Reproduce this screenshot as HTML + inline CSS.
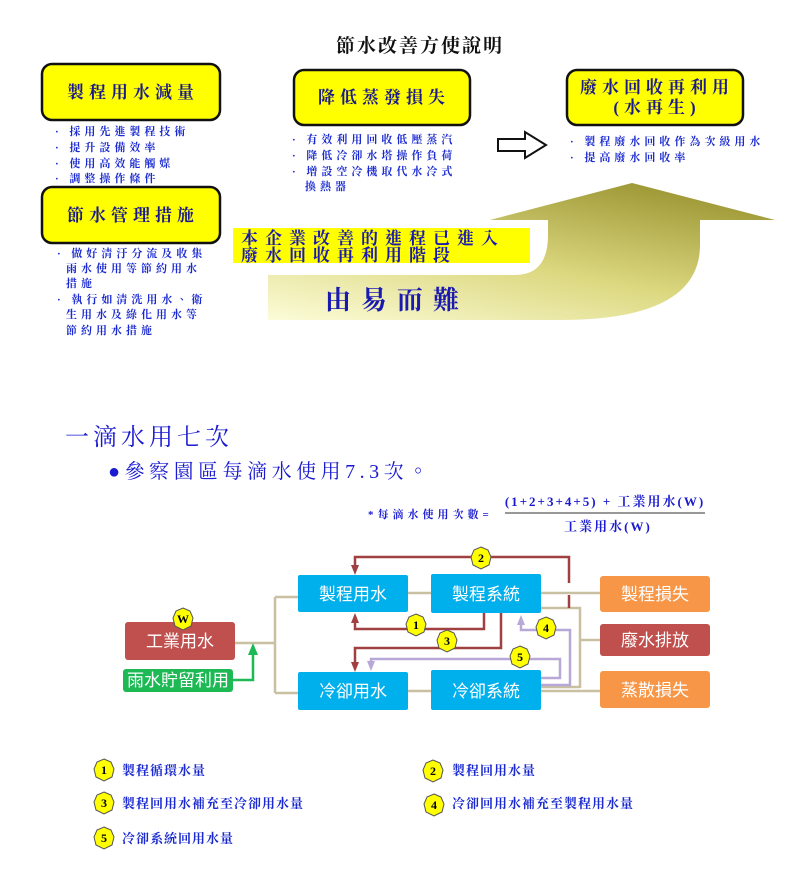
<!DOCTYPE html>
<html><head><meta charset="utf-8"><style>
body{margin:0;background:#fff;}
svg{display:block;font-family:"Liberation Serif","Noto Serif CJK TC","Noto Serif CJK SC",serif;}
.b{fill:#1a2ad0;font-weight:bold;font-size:11px;letter-spacing:4px;}
.bx{fill:#1a1a8c;font-weight:bold;font-size:17px;letter-spacing:5px;}
.wt{fill:#fff;font-size:17px;font-family:"Liberation Sans","Noto Sans CJK TC",sans-serif;}
.hx{fill:#ffff00;stroke:#555;stroke-width:1;}
.hn{font-size:12px;font-weight:bold;fill:#000;text-anchor:middle;}
.lg{fill:#1a2ad0;font-weight:bold;font-size:13px;letter-spacing:1px;}
</style></head><body>
<svg width="800" height="870" viewBox="0 0 800 870">
<defs>
<linearGradient id="g" x1="0" y1="1" x2="0.7" y2="0">
<stop offset="0" stop-color="#fcfcd8"/><stop offset="0.5" stop-color="#dcd880"/><stop offset="1" stop-color="#a09a38"/>
</linearGradient>
<marker id="ar" markerUnits="userSpaceOnUse" markerWidth="10" markerHeight="10" refX="5" refY="5" orient="auto"><path d="M0,1 L10,5 L0,9 Z" fill="#a04040"/></marker>
<marker id="al" markerUnits="userSpaceOnUse" markerWidth="10" markerHeight="10" refX="5" refY="5" orient="auto"><path d="M0,1 L10,5 L0,9 Z" fill="#b8a8d8"/></marker>
<marker id="ag" markerUnits="userSpaceOnUse" markerWidth="12" markerHeight="12" refX="6" refY="6" orient="auto"><path d="M0,1 L12,6 L0,11 Z" fill="#1db954"/></marker>
</defs>
<text x="420" y="52" text-anchor="middle" font-size="19" font-weight="bold" fill="#111" letter-spacing="2">節水改善方使說明</text>

<path d="M268,275 L515,275 Q548,275 548,235 L548,220 L490,220 L632,183 L775,220 L700,220 L700,245 Q700,320 560,320 L268,320 Z" fill="url(#g)"/>

<g stroke="#111" stroke-width="2.5" fill="#ffff00">
<rect x="42" y="64" width="178" height="56" rx="10"/>
<rect x="42" y="187" width="178" height="56" rx="10"/>
<rect x="294" y="70" width="176" height="55" rx="10"/>
<rect x="567" y="70" width="176" height="55" rx="10"/>
</g>
<text class="bx" x="133" y="98" text-anchor="middle">製程用水減量</text>
<text class="bx" x="133" y="221" text-anchor="middle">節水管理措施</text>
<text class="bx" x="384" y="103" text-anchor="middle">降低蒸發損失</text>
<text class="bx" x="657" y="93" text-anchor="middle" font-size="14" letter-spacing="3">廢水回收再利用</text>
<text class="bx" x="657" y="113" text-anchor="middle" font-size="14" letter-spacing="3">(水再生)</text>

<text class="b" x="55" y="135">· 採用先進製程技術</text>
<text class="b" x="55" y="151">· 提升設備效率</text>
<text class="b" x="55" y="167">· 使用高效能觸媒</text>
<text class="b" x="55" y="182">· 調整操作條件</text>
<text class="b" x="57" y="257">· 做好清汙分流及收集</text>
<text class="b" x="66" y="272">雨水使用等節約用水</text>
<text class="b" x="66" y="287">措施</text>
<text class="b" x="57" y="303">· 執行如清洗用水、衛</text>
<text class="b" x="66" y="318">生用水及綠化用水等</text>
<text class="b" x="66" y="334">節約用水措施</text>
<text class="b" x="292" y="143">· 有效利用回收低壓蒸汽</text>
<text class="b" x="292" y="159">· 降低冷卻水塔操作負荷</text>
<text class="b" x="292" y="175">· 增設空冷機取代水冷式</text>
<text class="b" x="305" y="190">換熱器</text>
<text class="b" x="570" y="145" letter-spacing="3">· 製程廢水回收作為次級用水</text>
<text class="b" x="570" y="161" letter-spacing="3">· 提高廢水回收率</text>

<path d="M498,139 L525,139 L525,132 L546,145 L525,158 L525,151 L498,151 Z" fill="#fff" stroke="#111" stroke-width="2"/>

<rect x="233" y="228" width="297" height="35" fill="#ffff00"/>
<text x="241" y="244" font-size="17" font-weight="bold" fill="#1a1ab0" letter-spacing="7">本企業改善的進程已進入</text>
<text x="241" y="261" font-size="17" font-weight="bold" fill="#1a1ab0" letter-spacing="7">廢水回收再利用階段</text>
<text x="325" y="309" font-size="26" font-weight="bold" fill="#1a1ab0" letter-spacing="10">由易而難</text>

<text x="65" y="445" font-size="24" fill="#1a1ad0" letter-spacing="4">一滴水用七次</text>
<text x="108" y="478" font-size="20" fill="#1a1ad0" letter-spacing="4.5">●參察園區每滴水使用7.3次。</text>
<text x="368" y="518" font-size="11" font-weight="bold" fill="#1a1ad0" letter-spacing="4">*每滴水使用次數=</text>
<text x="605" y="506" text-anchor="middle" font-size="13" font-weight="bold" fill="#1a1ad0" letter-spacing="2">(1+2+3+4+5) + 工業用水(W)</text>
<line x1="505" y1="513" x2="705" y2="513" stroke="#777" stroke-width="1.5"/>
<text x="608" y="531" text-anchor="middle" font-size="13" font-weight="bold" fill="#1a1ad0" letter-spacing="2">工業用水(W)</text>

<g stroke="#c8c0a0" stroke-width="2.5" fill="none">
<path d="M235,643 L275,643 M275,597 L275,693 M275,597 L298,597 M275,693 L298,693"/>
<path d="M408,593 L431,593 M408,691 L431,691 M541,593 L600,593 M541,691 L600,691"/>
<path d="M541,608 L580,608 L580,688 M580,640 L600,640 M541,687 L580,687"/>
</g>
<path d="M233,680 L253,680 L253,649" stroke="#1db954" stroke-width="2.5" fill="none" marker-end="url(#ag)"/>

<g stroke="#a04040" stroke-width="2.5" fill="none">
<path d="M569,583 L569,557 L355,557 L355,570" marker-end="url(#ar)"/>
<path d="M569,595 L569,608"/>
<path d="M484,613 L484,629 L355,629 L355,618" marker-end="url(#ar)"/>
<path d="M501,613 L501,648 L355,648 L355,667" marker-end="url(#ar)"/>
</g>
<g stroke="#b8a8d8" stroke-width="2.5" fill="none">
<path d="M541,685 L570,685 L570,630 L521,630 L521,620" marker-end="url(#al)"/>
<path d="M541,678 L560,678 L560,659 L371,659 L371,666" marker-end="url(#al)"/>
</g>

<rect x="298" y="575" width="110" height="37" rx="2" fill="#00b0ec"/>
<rect x="431" y="574" width="110" height="39" rx="2" fill="#00b0ec"/>
<rect x="298" y="672" width="110" height="38" rx="2" fill="#00b0ec"/>
<rect x="431" y="670" width="110" height="40" rx="2" fill="#00b0ec"/>
<rect x="125" y="622" width="110" height="38" rx="3" fill="#c0504d"/>
<rect x="123" y="669" width="110" height="23" rx="3" fill="#1db954"/>
<rect x="600" y="576" width="110" height="36" rx="3" fill="#f79646"/>
<rect x="600" y="624" width="110" height="32" rx="3" fill="#c0504d"/>
<rect x="600" y="671" width="110" height="37" rx="3" fill="#f79646"/>
<text class="wt" x="353" y="600" text-anchor="middle">製程用水</text>
<text class="wt" x="486" y="600" text-anchor="middle">製程系統</text>
<text class="wt" x="353" y="697" text-anchor="middle">冷卻用水</text>
<text class="wt" x="486" y="697" text-anchor="middle">冷卻系統</text>
<text class="wt" x="180" y="647" text-anchor="middle">工業用水</text>
<text class="wt" x="178" y="686" text-anchor="middle" font-size="13">雨水貯留利用</text>
<text class="wt" x="655" y="600" text-anchor="middle">製程損失</text>
<text class="wt" x="655" y="646" text-anchor="middle">廢水排放</text>
<text class="wt" x="655" y="696" text-anchor="middle">蒸散損失</text>

<g>
<polygon class="hx" points="183,608 190,611 193,618 191,626 183,630 175,626 173,618 176,611"/><text class="hn" x="183" y="623">W</text>
<polygon class="hx" points="481,547 488,550 491,557 489,565 481,569 473,565 471,557 474,550"/><text class="hn" x="481" y="562">2</text>
<polygon class="hx" points="416,614 423,617 426,624 424,632 416,636 408,632 406,624 409,617"/><text class="hn" x="416" y="629">1</text>
<polygon class="hx" points="447,630 454,633 457,640 455,648 447,652 439,648 437,640 440,633"/><text class="hn" x="447" y="645">3</text>
<polygon class="hx" points="546,617 553,620 556,627 554,635 546,639 538,635 536,627 539,620"/><text class="hn" x="546" y="632">4</text>
<polygon class="hx" points="520,646 527,649 530,656 528,664 520,668 512,664 510,656 513,649"/><text class="hn" x="520" y="661">5</text>
</g>

<g>
<polygon class="hx" points="104,759 111,762 114,769 112,777 104,781 96,777 94,769 97,762"/><text class="hn" x="104" y="774">1</text>
<text class="lg" x="122" y="775">製程循環水量</text>
<polygon class="hx" points="433,760 440,763 443,770 441,778 433,782 425,778 423,770 426,763"/><text class="hn" x="433" y="775">2</text>
<text class="lg" x="452" y="775">製程回用水量</text>
<polygon class="hx" points="104,792 111,795 114,802 112,810 104,814 96,810 94,802 97,795"/><text class="hn" x="104" y="807">3</text>
<text class="lg" x="122" y="808">製程回用水補充至冷卻用水量</text>
<polygon class="hx" points="434,794 441,797 444,804 442,812 434,816 426,812 424,804 427,797"/><text class="hn" x="434" y="809">4</text>
<text class="lg" x="452" y="808">冷卻回用水補充至製程用水量</text>
<polygon class="hx" points="104,827 111,830 114,837 112,845 104,849 96,845 94,837 97,830"/><text class="hn" x="104" y="842">5</text>
<text class="lg" x="122" y="843">冷卻系統回用水量</text>
</g>
</svg>
</body></html>
